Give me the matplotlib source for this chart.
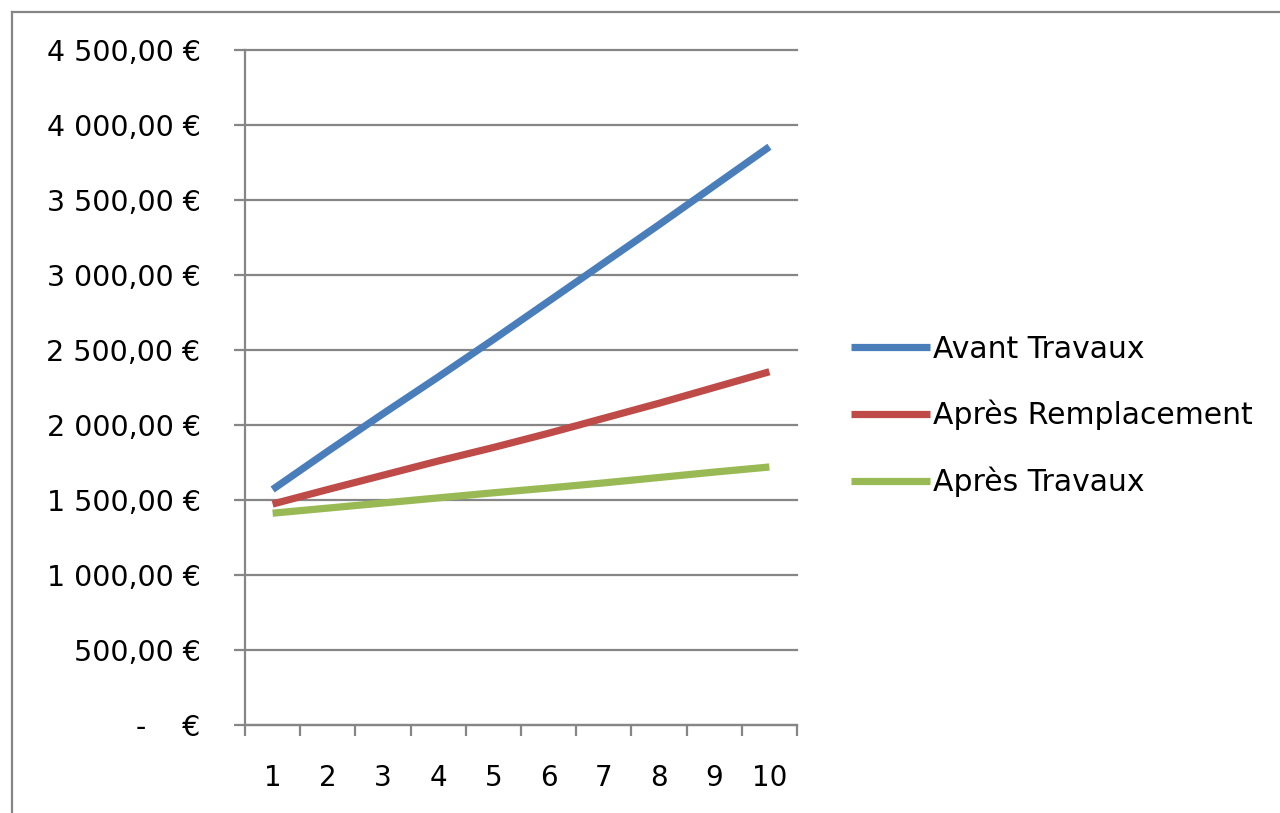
import matplotlib.pyplot as plt
from matplotlib.lines import Line2D
from matplotlib.ticker import FuncFormatter, MultipleLocator, FixedLocator

# donnees
annees = [1, 2, 3, 4, 5, 6, 7, 8, 9, 10]
avant_travaux = [1570, 1825, 2075, 2320, 2570, 2825, 3080, 3335, 3595, 3855]
apres_remplacement = [1473, 1570, 1665, 1760, 1850, 1945, 2045, 2145, 2250, 2355]
apres_travaux = [1412, 1446, 1480, 1514, 1548, 1580, 1614, 1650, 1686, 1720]
series = ["Avant Travaux", "Après Remplacement", "Après Travaux"]
couleurs = ["#4A7EBB", "#BE4B48", "#98B954"]

gris = "#868686"
W, H = 1280, 813

fig = plt.figure(figsize=(W / 100, H / 100), dpi=100)
plt.rcParams['font.family'] = ['DejaVu Sans']

# cadre exterieur (gauche + haut)
fig.add_artist(Line2D([12 / W, 12 / W], [0, 1 - 12 / H], color=gris, lw=1.6))
fig.add_artist(Line2D([12 / W, 1], [1 - 12 / H, 1 - 12 / H], color=gris, lw=1.6))

ax = fig.add_axes([245 / W, 1 - 725 / H, (797 - 245) / W, (725 - 50) / H])

for vals, nom, c in zip([avant_travaux, apres_remplacement, apres_travaux], series, couleurs):
    ax.plot(annees, vals, color=c, lw=5.2, label=nom, solid_capstyle='butt')

ax.set_xlim(0.5, 10.5)
ax.set_ylim(0, 4500)

def euro(v, pos):
    if v == 0:
        return "-    €"
    s = f"{v:,.2f}".replace(",", " ").replace(".", ",")
    return s + " €"

ax.yaxis.set_major_locator(MultipleLocator(500))
ax.yaxis.set_major_formatter(FuncFormatter(euro))
ax.yaxis.grid(True, color=gris, lw=1.6)
ax.set_axisbelow(True)
for g in ax.get_ygridlines():
    g.set_clip_on(False)

ax.xaxis.set_major_locator(FixedLocator(annees))
ax.xaxis.set_minor_locator(FixedLocator([a - 0.5 for a in annees] + [10.5]))
ax.tick_params(axis='x', which='major', length=0, pad=28, labelsize=20)
ax.tick_params(axis='x', which='minor', length=8, width=1.6, color=gris, direction='out')
ax.tick_params(axis='y', which='major', length=8, width=1.6, color=gris, pad=24, labelsize=20.5)

for s in ['top', 'right']:
    ax.spines[s].set_visible(False)
for s in ['left', 'bottom']:
    ax.spines[s].set_color(gris)
    ax.spines[s].set_linewidth(1.6)

fig.legend(loc='center left', bbox_to_anchor=(851 / W, 1 - 416 / H), frameon=False,
           fontsize=21.5, handlelength=2.65, handletextpad=0.1, labelspacing=1.22,
           borderpad=0, borderaxespad=0)

fig.savefig("out.png", dpi=100)
